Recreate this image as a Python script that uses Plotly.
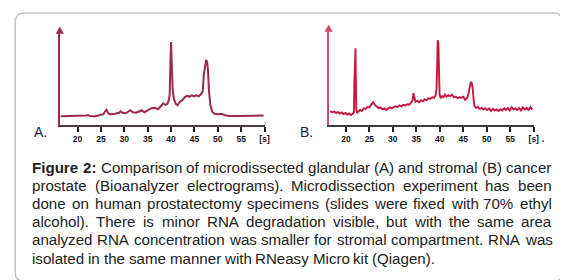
import plotly.graph_objects as go

W, H = 568, 280

# ---------------- data ----------------
tick_vals = [20, 25, 30, 35, 40, 45, 50, 55, 60]
tick_text = ["20", "25", "30", "35", "40", "45", "50", "55", "[s]"]

time_a = [16.4, 18.0, 20.0, 21.8, 22.2, 22.6, 23.8, 24.8, 25.5, 25.9, 26.2, 26.6, 27.0, 28.0,
          28.9, 29.2, 29.6, 30.3, 31.0, 31.3, 31.8, 32.5, 33.3, 33.7, 34.3, 35.0, 35.8, 36.5,
          37.2, 37.8, 38.3, 38.8, 39.2, 39.5, 39.7, 39.85, 40.0, 40.15, 40.35, 40.6, 41.0, 41.4,
          41.9, 42.4, 42.9, 43.4, 43.9, 44.4, 44.9, 45.4, 45.9, 46.4, 46.8, 47.0, 47.3, 47.5,
          47.7, 47.9, 48.1, 48.4, 48.8, 49.3, 50.0, 50.8, 51.5, 52.5, 54.0, 56.0, 58.0, 59.8]
fu_a = [8.5, 8.6, 8.7, 9.2, 9.7, 8.8, 8.6, 9.5, 10.5, 13.5, 15.0, 11.0, 10.5, 11.0,
        12.0, 13.5, 12.0, 11.5, 13.5, 14.5, 12.5, 12.0, 13.5, 14.5, 12.5, 14.0, 16.5, 17.0,
        15.5, 18.5, 21.5, 20.0, 21.0, 24.0, 30.0, 60.0, 83.0, 60.0, 35.0, 26.0, 21.0, 19.5,
        23.0, 24.5, 27.5, 29.0, 28.0, 29.5, 28.5, 29.5, 28.5, 30.5, 34.0, 50.0, 62.0, 65.0,
        63.0, 55.0, 35.0, 20.0, 13.0, 11.0, 10.5, 11.0, 9.5, 8.8, 8.8, 9.0, 9.0, 9.2]

time_b = [16.7, 17.1, 17.5, 17.9, 18.3, 18.7, 19.1, 19.5, 19.9, 20.3, 20.7, 21.1, 21.4, 21.7,
          21.8, 21.9, 21.95, 22.05, 22.1, 22.2, 22.4, 22.7, 23.0, 23.4, 23.8, 24.2, 24.6, 25.0,
          25.4, 25.8, 26.2, 26.6, 27.0, 27.4, 27.8, 28.2, 28.6, 29.0, 29.4, 29.8, 30.2, 30.6,
          31.0, 31.4, 31.8, 32.2, 32.6, 33.0, 33.4, 33.8, 34.2, 34.4, 34.6, 34.8, 35.2, 35.6,
          36.0, 36.4, 36.8, 37.2, 37.6, 38.0, 38.4, 38.8, 39.1, 39.3, 39.45, 39.55, 39.7, 39.8,
          39.95, 40.2, 40.5, 40.8, 41.1, 41.4, 41.8, 42.2, 42.6, 43.0, 43.4, 43.8, 44.2, 44.6,
          45.0, 45.4, 45.8, 46.1, 46.4, 46.6, 46.8, 47.0, 47.2, 47.4, 47.7, 48.1, 48.5, 48.9,
          49.3, 49.7, 50.1, 50.5, 50.9, 51.3, 51.7, 52.1, 52.5, 52.9, 53.3, 53.7, 54.1, 54.5,
          54.9, 55.3, 55.7, 56.1, 56.5, 56.9, 57.3, 57.7, 58.1, 58.5, 58.9, 59.3, 59.7]
fu_b = [13.5, 12.0, 13.0, 11.5, 12.5, 11.0, 12.0, 10.5, 11.5, 10.0, 11.0, 9.5, 10.5, 12.0,
        40.0, 53.0, 75.0, 75.0, 50.0, 15.0, 11.5, 13.0, 14.5, 13.5, 16.0, 15.5, 17.5, 17.0,
        19.5, 22.0, 19.5, 17.5, 16.0, 17.0, 15.0, 16.0, 14.5, 16.0, 17.0, 16.0, 17.5, 18.0,
        17.5, 19.0, 18.0, 19.5, 19.0, 20.0, 19.5, 21.0, 24.0, 31.0, 25.0, 22.5, 23.5, 22.0,
        24.0, 23.0, 25.0, 24.0, 26.0, 25.5, 27.0, 26.5, 29.0, 35.0, 60.0, 83.0, 80.0, 55.0,
        30.0, 26.0, 28.0, 27.0, 29.5, 27.5, 29.0, 28.0, 29.5, 27.0, 27.5, 26.0, 27.0, 26.5,
        27.5, 24.5, 26.0, 30.0, 38.0, 42.0, 41.0, 36.0, 25.0, 18.0, 16.5, 17.5, 15.5, 16.5,
        15.0, 16.0, 14.5, 16.0, 13.5, 15.5, 14.0, 15.0, 13.5, 15.0, 14.0, 16.0, 14.5, 16.5,
        14.0, 17.0, 15.0, 16.0, 14.5, 16.5, 14.0, 17.0, 15.0, 16.5, 14.5, 17.5, 15.0]

caption_lines = [
    [("Figure", True), ("2:", True), ("Comparison", False), ("of", False), ("microdissected", False),
     ("glandular", False), ("(A)", False), ("and", False), ("stromal", False), ("(B)", False), ("cancer", False)],
    "prostate (Bioanalyzer electrograms). Microdissection experiment has been",
    "done on human prostatectomy specimens (slides were fixed with 70% ethyl",
    "alcohol). There is minor RNA degradation visible, but with the same area",
    "analyzed RNA concentration was smaller for stromal compartment. RNA was",
    "isolated in the same manner with RNeasy Micro kit (Qiagen).",
]

# ---------------- helpers ----------------
def X(px):
    return px / W


def Y(py):
    return 1 - py / H


REG = dict(zip("abcdefghijklmnopqrstuvwxyz",
               [556, 556, 500, 556, 556, 278, 556, 556, 222, 222, 500, 222, 833, 556, 556, 556,
                556, 333, 500, 278, 556, 500, 722, 500, 500, 500]))
REG.update(dict(zip("ABCDEFGHIJKLMNOPQRSTUVWXYZ",
                    [667, 667, 722, 722, 667, 611, 778, 722, 278, 500, 667, 556, 833, 722, 778,
                     667, 778, 722, 667, 611, 722, 667, 944, 667, 667, 611])))
REG.update({d: 556 for d in "0123456789"})
REG.update({"(": 333, ")": 333, ".": 278, ",": 278, ":": 278, "%": 889, " ": 278, "-": 333})
BOLD = dict(REG)
BOLD.update({"i": 278, "g": 611, "u": 611, "r": 389, "F": 611, ":": 333})

FS = 15.1
DY = -6.5  # vertical correction for annotation placement


def text_w(word, bold):
    tbl = BOLD if bold else REG
    return sum(tbl.get(c, 556) for c in word) * FS / 1000


fig = go.Figure()

fig.add_trace(go.Scatter(x=time_a, y=fu_a, mode="lines", xaxis="x", yaxis="y",
                         line=dict(color="#a0284a", width=2.0), hoverinfo="skip"))
fig.add_trace(go.Scatter(x=time_b, y=fu_b, mode="lines", xaxis="x2", yaxis="y2",
                         line=dict(color="#c8173f", width=1.9), hoverinfo="skip"))

yb = 116.7
tickfont = dict(family="Liberation Sans Narrow, Arial Narrow, Liberation Sans", size=8.5,
                color="#111", weight="bold")
common_x = dict(tickmode="array", tickvals=tick_vals, ticktext=tick_text, ticks="outside",
                ticklen=5, tickwidth=1.6, tickcolor="#222", showgrid=False, zeroline=False,
                showline=True, linewidth=1.6, tickfont=tickfont, fixedrange=True)
common_y = dict(showticklabels=False, ticks="", showgrid=False, zeroline=False,
                showline=True, linewidth=1.6, range=[0, 94], fixedrange=True)

fig.update_layout(
    width=W, height=H, margin=dict(l=0, r=0, t=0, b=0),
    paper_bgcolor="white", plot_bgcolor="rgba(0,0,0,0)", showlegend=False,
    xaxis=dict(domain=[X(52.3), X(258.8)], range=[16.2, 60], anchor="y",
               linecolor="#4e3a44", **common_x),
    yaxis=dict(domain=[Y(yb), Y(23)], anchor="x", linecolor="#9c2c4c", **common_y),
    xaxis2=dict(domain=[X(323.5), X(530.4)], range=[16.33, 60], anchor="y2",
                linecolor="#3d3d3d", **common_x),
    yaxis2=dict(domain=[Y(yb), Y(21)], anchor="x2", linecolor="#d24a6c", **common_y),
)

shapes = []
# arrowheads on y-axes
for cx, top, col in [(52.3, 19.0, "#9c2c4c"), (323.5, 17.0, "#d24a6c")]:
    p = "M {} {} L {} {} L {} {} Z".format(X(cx), Y(top), X(cx - 3.8), Y(top + 6.5),
                                          X(cx + 3.8), Y(top + 6.5))
    shapes.append(dict(type="path", xref="paper", yref="paper", path=p,
                       fillcolor=col, line=dict(color=col, width=0.5)))

# rounded border
x0, x1, y0, y1, r = 7.3, 559.5, 5.0, 273.3, 9
pts = [
    "M {} {}".format(X(x0 + r), Y(y0)),
    "L {} {}".format(X(x1 - r), Y(y0)),
    "Q {} {} {} {}".format(X(x1), Y(y0), X(x1), Y(y0 + r)),
    "L {} {}".format(X(x1), Y(y1 - r)),
    "Q {} {} {} {}".format(X(x1), Y(y1), X(x1 - r), Y(y1)),
    "L {} {}".format(X(x0 + r), Y(y1)),
    "Q {} {} {} {}".format(X(x0), Y(y1), X(x0), Y(y1 - r)),
    "L {} {}".format(X(x0), Y(y0 + r)),
    "Q {} {} {} {} Z".format(X(x0), Y(y0), X(x0 + r), Y(y0)),
]
shapes.append(dict(type="path", xref="paper", yref="paper", path=" ".join(pts),
                   line=dict(color="#c4c4c4", width=1.6)))
fig.update_layout(shapes=shapes)

ann = []
for txt, px in [("A.", 24.5), ("B.", 292.5)]:
    ann.append(dict(text=txt, x=X(px), y=Y(130.5 + DY), xref="paper", yref="paper",
                    xanchor="left", yanchor="middle", showarrow=False,
                    font=dict(family="Liberation Sans, Arial", size=14, color="#1c1c3a")))
ann.append(dict(text=".", x=X(536), y=Y(135.5 + DY), xref="paper", yref="paper",
                xanchor="left", yanchor="middle", showarrow=False,
                font=dict(family="Liberation Sans, Arial", size=14, color="#1c1c3a")))

# caption, justified
left, right = 22.5, 546.0
line_y = [165.5, 183.7, 201.9, 220.1, 238.3, 256.5]
for i, ln in enumerate(caption_lines):
    words = ln if isinstance(ln, list) else [(w, False) for w in ln.split(" ")]
    widths = [text_w(w, b) for w, b in words]
    last = i == len(caption_lines) - 1
    gap = REG[" "] * FS / 1000 if last else (right - left - sum(widths)) / (len(words) - 1)
    xpos = left
    for (w, b), wd in zip(words, widths):
        ann.append(dict(text="<b>{}</b>".format(w) if b else w, x=X(xpos), y=Y(line_y[i] + DY),
                        xref="paper", yref="paper", xanchor="left", yanchor="middle",
                        showarrow=False,
                        font=dict(family="Liberation Sans, Arial", size=FS, color="#222222")))
        xpos += wd + gap
fig.update_layout(annotations=ann)

fig.write_html("out.html")
